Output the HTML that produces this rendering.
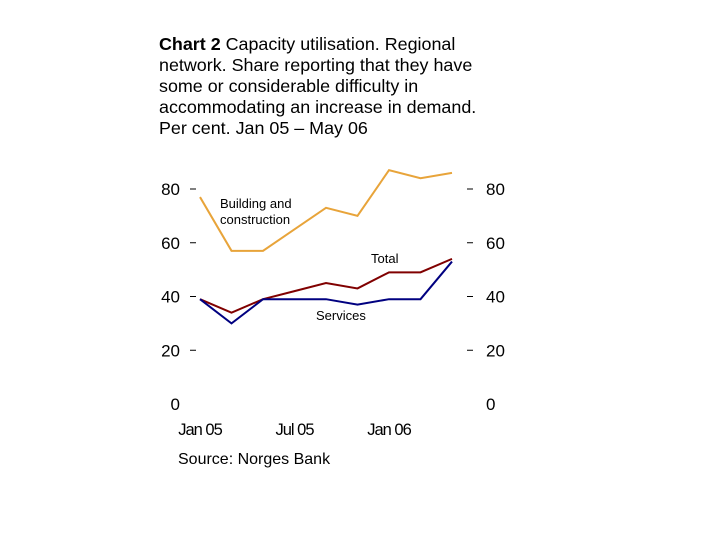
<!DOCTYPE html>
<html><head><meta charset="utf-8"><style>
body{margin:0;background:#fff;width:720px;height:540px;overflow:hidden;font-family:"Liberation Sans",sans-serif}
#t{position:absolute;left:159px;top:34px;font-size:17.9px;line-height:21px;color:#000;width:330px}
</style></head><body>
<div id="t"><b>Chart 2</b> Capacity utilisation. Regional network. Share reporting that they have some or considerable difficulty in accommodating an increase in demand. Per cent. Jan 05 – May 06</div>
<svg id="c" width="720" height="540" style="position:absolute;left:0;top:0"></svg>
<script>
const months=[0,2,4,6,8,10,12,14,16];
const building=[77,57,57,65,73,70,87,84,86];
const total=[39,34,39,42,45,43,49,49,54];
const services=[39,30,39,39,39,37,39,39,53];
const yTicks=[0,20,40,60,80];
const xLabels=[["Jan 05",0],["Jul 05",6],["Jan 06",12]];
const NS="http://www.w3.org/2000/svg",svg=document.getElementById('c');
const X=m=>200+m*15.75, Y=v=>404-v*2.6875;
function mk(t,a,txt){const e=document.createElementNS(NS,t);for(const k in a)e.setAttribute(k,a[k]);if(txt!=null)e.textContent=txt;svg.appendChild(e);return e;}
yTicks.forEach(v=>{
 let e=mk('text',{x:180,y:Y(v)+6,'text-anchor':'end','font-size':17,fill:'#000'},v);
 
 
 e=mk('text',{x:486,y:Y(v)+6,'font-size':17,fill:'#000'},v);
 
 
 if(v>0){mk('line',{x1:190,x2:196,y1:Y(v),y2:Y(v),stroke:'#000'});mk('line',{x1:467,x2:473,y1:Y(v),y2:Y(v),stroke:'#000'});}
});
xLabels.forEach(([l,m])=>{const e=mk('text',{x:X(m),y:435,'text-anchor':'middle','font-size':16.5,'letter-spacing':'-1',fill:'#000'},l);
 
 });
function line(d,col,name){const e=mk('polyline',{points:d.map((v,i)=>X(months[i])+','+Y(v)).join(' '),fill:'none',stroke:col,'stroke-width':2});
 
 }
line(building,'#e8a43a','building-line');
line(total,'#800000','total-line');
line(services,'#000080','services-line');
[["Building and",220,208],["construction",220,224],["Total",371,263],["Services",316,320]].forEach(([s,x,y])=>{const e=mk('text',{x:x,y:y,'font-size':13,fill:'#000'},s);
 
 });
const s=mk('text',{x:178,y:464,'font-size':16,fill:'#000'},'Source: Norges Bank');


</script></body></html>
